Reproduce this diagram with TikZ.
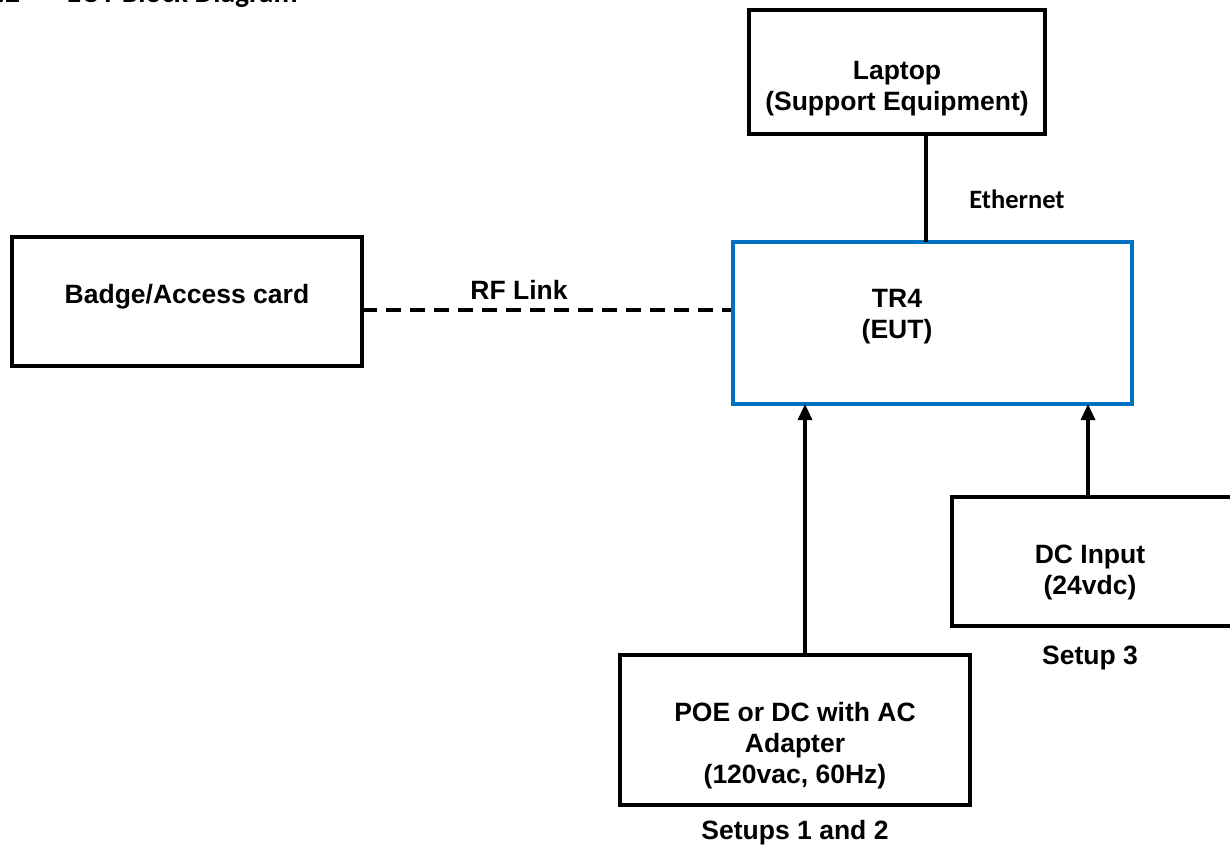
\documentclass[tikz,border=0pt]{standalone}
\usepackage{fontspec}
\setmainfont{Liberation Sans}
\newfontfamily\calib{Carlito}
\usetikzlibrary{arrows.meta}
\definecolor{eutblue}{HTML}{0070C0}
\begin{document}
\begin{tikzpicture}[x=1pt,y=-1pt,
  box/.style={draw=black,line width=3.6pt,fill=none},
  lbl/.style={font=\fontsize{26.5}{31}\selectfont\bfseries,align=center,inner sep=0pt},
  conn/.style={line width=3.2pt},
  arr/.style={line width=3.2pt,-{Triangle[width=14pt,length=16pt]}}]
\useasboundingbox (0,0) rectangle (1230,848);
\begin{scope}
\clip (0,0) rectangle (1230,848);
\node[anchor=base west,inner sep=0pt,font=\calib\fontsize{29.5}{32}\selectfont\bfseries] (title) at (-18,3) {4.2\hspace{47pt}EUT Block Diagram};
\end{scope}
% boxes
\draw[box] (749,10) rectangle (1045,134);
\node[lbl] (laptop) at (897,89) {Laptop\\(Support Equipment)};
\coordinate (lapb) at (926,134);
\draw[box] (12,237) rectangle (362,366);
\node[lbl] (badge) at (187,297) {Badge/Access card};
\coordinate (badger) at (362,310);
\draw[draw=eutblue,line width=3.4pt] (733,242) rectangle (1132,404);
\node[lbl] (tr4) at (897,317) {TR4\\(EUT)};
\coordinate (tr4t) at (926,242);
\coordinate (tr4l) at (731,310);
\coordinate (tr4b1) at (805,404);
\coordinate (tr4b2) at (1088,404);
\draw[box] (952,497) rectangle (1234,626);
\node[lbl] (dc) at (1090,572) {DC Input\\(24vdc)};
\coordinate (dct) at (1088,497);
\draw[box] (620,655) rectangle (970,805);
\node[lbl] (poe) at (795,746) {POE or DC with AC\\Adapter\\(120vac, 60Hz)};
\coordinate (poet) at (805,655);
\node[lbl] (setup3) at (1090,658) {Setup 3};
\node[lbl] (setups12) at (795,833) {Setups 1 and 2};
% connectors
\draw[conn] (lapb) -- (tr4t);
\node[inner sep=0pt,font=\calib\fontsize{26.5}{30}\selectfont\bfseries] (eth) at (1017,199) {Ethernet};
\draw[conn,dash pattern=on 15pt off 9pt] (badger) -- (tr4l);
\node[lbl] (rf) at (519,290) {RF Link};
\draw[arr] (poet) -- (tr4b1);
\draw[arr] (dct) -- (tr4b2);
\end{tikzpicture}
\end{document}
